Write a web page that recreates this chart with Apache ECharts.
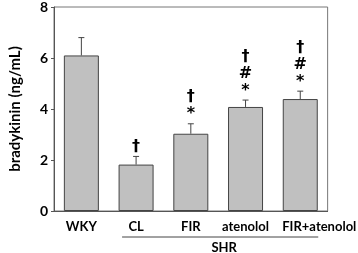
<!DOCTYPE html>
<html>
<head>
<meta charset="utf-8">
<script src="https://cdn.jsdelivr.net/npm/echarts@6/dist/echarts.min.js"></script>
<style>
  html, body { margin: 0; padding: 0; background: #fff; }
  #main { width: 358px; height: 253px; }
</style>
</head>
<body>
<div id="main"></div>
<script>
// data
var groups = ['WKY', 'CL', 'FIR', 'atenolol', 'FIR+atenolol'];
var means = [6.1, 1.82, 3.03, 4.08, 4.39];
var errTop = [6.8, 2.14, 3.42, 4.35, 4.7];
var marks = ['', '†', '†\n*', '†\n#\n*', '†\n#\n*'];
var yTicks = [0, 2, 4, 6, 8];

var font = 'Lato';
var chart = echarts.init(document.getElementById('main'));

// the last label sits pushed to the right in the original figure
var catData = groups.map(function (g, i) {
  if (i === groups.length - 1) {
    return { value: g, textStyle: { align: 'left', padding: [0, 0, 0, -18] } };
  }
  return g;
});

var option = {
  animation: false,
  grid: { left: 41, right: 30, top: 5, bottom: 42, show: true, borderColor: '#777', borderWidth: 1 },
  xAxis: {
    type: 'category',
    data: catData,
    axisLine: { lineStyle: { color: '#555' } },
    axisTick: { show: false },
    axisLabel: { interval: 0, color: '#000', fontFamily: font, fontWeight: 'bold', fontSize: 13, margin: 9 }
  },
  yAxis: {
    type: 'value',
    min: yTicks[0],
    max: yTicks[yTicks.length - 1],
    interval: 2,
    name: 'bradykinin (ng/mL)',
    nameLocation: 'middle',
    nameGap: 31,
    nameTextStyle: { color: '#000', fontFamily: font, fontWeight: 'bold', fontSize: 15 },
    axisLine: { show: true, lineStyle: { color: '#555' } },
    axisTick: { show: true, length: 3, lineStyle: { color: '#555' } },
    splitLine: { show: false },
    axisLabel: { color: '#000', fontFamily: font, fontWeight: 'bold', fontSize: 14, margin: 6 }
  },
  series: [
    {
      type: 'bar',
      data: means,
      barWidth: 35,
      itemStyle: { color: '#c0c0c0', borderColor: '#444', borderWidth: 1 }
    },
    {
      type: 'custom',
      data: groups.map(function (g, i) { return [i, means[i], errTop[i]]; }),
      z: 3,
      renderItem: function (params, api) {
        var base = api.coord([api.value(0), api.value(1)]);
        var top = api.coord([api.value(0), api.value(2)]);
        var x = base[0];
        var kids = [
          { type: 'line', shape: { x1: x, y1: base[1], x2: x, y2: top[1] }, style: { stroke: '#444', lineWidth: 1 } },
          { type: 'line', shape: { x1: x - 3, y1: top[1], x2: x + 3, y2: top[1] }, style: { stroke: '#444', lineWidth: 1 } }
        ];
        var m = marks[params.dataIndex];
        if (m) {
          kids.push({
            type: 'text',
            style: {
              text: m, x: x, y: top[1] - 1,
              align: 'center', verticalAlign: 'bottom',
              font: 'bold 16px "DejaVu Sans"', lineHeight: 17, fill: '#000'
            }
          });
        }
        return { type: 'group', children: kids };
      }
    }
  ]
};
chart.setOption(option);

// SHR bracket under the treated groups
var p1 = chart.convertToPixel({ xAxisIndex: 0, yAxisIndex: 0 }, [1, 0]);
var p4 = chart.convertToPixel({ xAxisIndex: 0, yAxisIndex: 0 }, [4, 0]);
var y0 = p1[1];
chart.setOption({
  graphic: [
    { type: 'line', shape: { x1: p1[0] - 14, y1: y0 + 26, x2: p4[0] + 18, y2: y0 + 26 }, style: { stroke: '#444', lineWidth: 1 } },
    { type: 'text', style: { text: 'SHR', x: (p1[0] + p4[0]) / 2 + 6, y: y0 + 37, align: 'center', verticalAlign: 'middle', font: 'bold 13px "' + font + '"', fill: '#000' } }
  ]
});
</script>
</body>
</html>
